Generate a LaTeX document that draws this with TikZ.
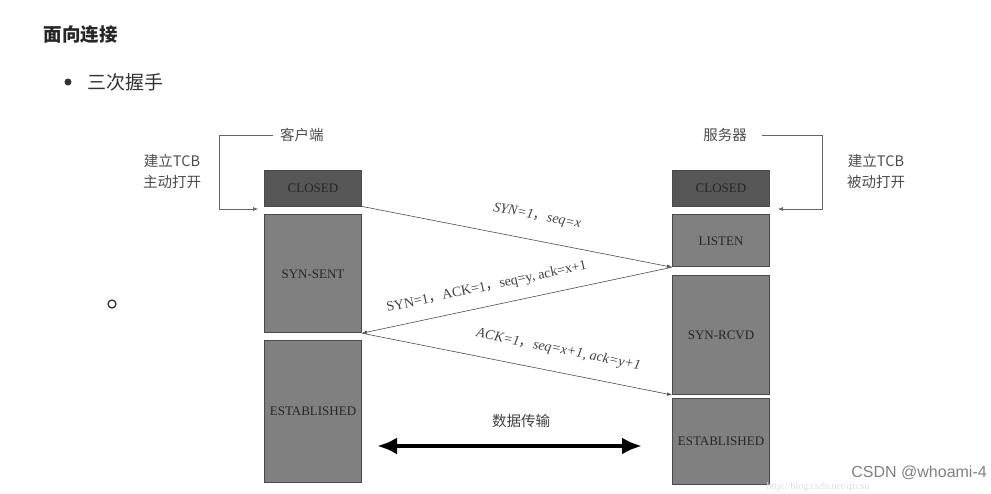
\documentclass[tikz,border=0pt]{standalone}
\usepackage{fontspec}
\setmainfont{Liberation Serif}
\newfontfamily\cjk{Noto Sans CJK SC}
\newfontfamily\wmsans{Liberation Sans}
\usetikzlibrary{positioning,arrows.meta}
\definecolor{stategray}{HTML}{808080}
\definecolor{closedgray}{HTML}{575757}
\definecolor{edgegray}{HTML}{4A4A4A}
\definecolor{txtgray}{HTML}{262626}
\newcommand{\zc}{{\cjk\upshape ，}}

\begin{document}
\begin{tikzpicture}[
x=1pt, y=-1pt,
node distance=8pt,
state/.style={draw=edgegray, fill=stategray, line width=0.8pt, minimum width=97pt, inner sep=0pt, text=txtgray, font=\fontsize{13}{13}\selectfont},
closedstate/.style={state, fill=closedgray, minimum height=36pt},
msg/.style={draw=black!70, line width=0.6pt, -{Latex[length=5pt,width=3.5pt]}},
msglabel/.style={sloped, font=\fontsize{14}{14}\selectfont, text=black!75},
msgitlabel/.style={msglabel, font=\itshape\fontsize{14}{14}\selectfont},
cjklabel/.style={font=\cjk\fontsize{14.5}{21}\selectfont, text=black!70, align=center},
bracket/.style={draw=black!60, line width=0.6pt, -{Latex[length=5pt,width=4pt]}}
]
\useasboundingbox (0,0) rectangle (991,493);

% heading and list
\node[font=\cjk\bfseries\fontsize{18.5}{18.5}\selectfont, text=black!85, anchor=west] (title) at (40,35) {面向连接};
\node[circle, fill=black!80, inner sep=0pt, minimum size=7pt] (dot) at (68,82) {};
\node[font=\cjk\fontsize{19}{19}\selectfont, text=black!80, anchor=west] (item) at (84,82) {三次握手};
\node[circle, draw=black!80, line width=1.3pt, inner sep=0pt, minimum size=8pt] (ring) at (112,304) {};

% client states
\node[closedstate] (closedL) at (313,188) {CLOSED};
\node[state, minimum height=118pt, below=8pt of closedL] (synsent) {SYN-SENT};
\node[state, minimum height=142pt, below=7pt of synsent] (estL) {ESTABLISHED};

% server states
\node[closedstate] (closedR) at (721,188) {CLOSED};
\node[state, minimum height=52pt, below=8pt of closedR] (listen) {LISTEN};
\node[state, minimum height=119pt, below=8pt of listen] (synrcvd) {SYN-RCVD};
\node[state, minimum height=86pt, below=3pt of synrcvd] (estR) {ESTABLISHED};

% open brackets
\node[cjklabel, anchor=west, inner xsep=7pt] (client) at (273,135) {客户端};
\node[cjklabel, anchor=east, inner xsep=7pt] (server) at (754,135) {服务器};
\node[cjklabel] (activeopen) at (172,171.5) {建立TCB\\主动打开};
\node[cjklabel] (passiveopen) at (876,171.5) {建立TCB\\被动打开};
\coordinate (openL) at (258,209);
\coordinate (openR) at (778,209);
\draw[bracket] (client.west) -- ++(-54,0) |- (openL);
\draw[bracket] ([xshift=8pt]server.east) -- ++(60,0) |- (openR);

% handshake
\draw[msg] (closedL.south east) -- node[msgitlabel, above=14pt, pos=0.55] {SYN=1\zc seq=x} (listen.south west);
\draw[msg] (listen.south west) -- node[msglabel, above=9pt, pos=0.585] {SYN=1\zc ACK=1\zc seq=y, ack=x+1} (synsent.south east);
\draw[msg] (synsent.south east) -- node[msgitlabel, above=12pt, pos=0.62] {ACK=1\zc seq=x+1, ack=y+1} (synrcvd.south west);

% data transfer
\coordinate (dataL) at (377,446);
\coordinate (dataR) at (642,446);
\node[cjklabel, text=black!75] (datalabel) at (521,421) {数据传输};
\draw[line width=4.5pt, {Latex[length=20pt,width=17pt]}-{Latex[length=20pt,width=17pt]}] (dataL) -- (dataR);

% watermarks
\node[font=\fontsize{10}{10}\selectfont, text=black!13, inner sep=1pt] (url) at (818,487) {http://blog.csdn.net/qzcsu};
\node[font=\wmsans\fontsize{16}{16}\selectfont, text=black!50, anchor=east, inner sep=1pt] (csdn) at (988,473) {CSDN @whoami-4};
\end{tikzpicture}
\end{document}
